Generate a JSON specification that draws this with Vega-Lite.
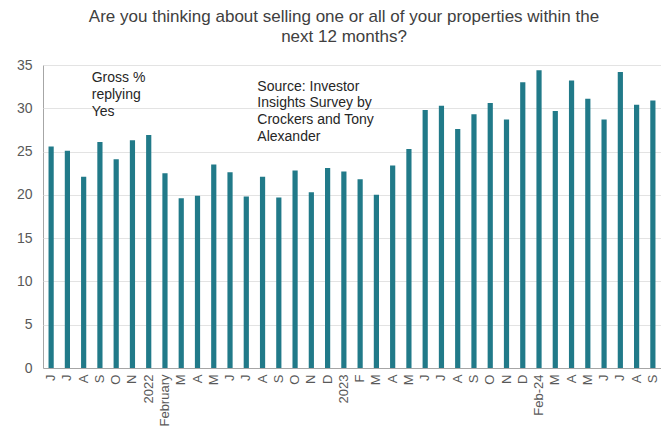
{
  "$schema": "https://vega.github.io/schema/vega-lite/v6.json",
  "width": 618,
  "height": 303,
  "autosize": {"type": "none"},
  "padding": {"left": 43, "top": 65, "right": 0, "bottom": 66},
  "background": "white",
  "config": {
    "font": "Liberation Sans",
    "view": {"stroke": "#a6a6a6", "strokeWidth": 1}
  },
  "title": {
    "text": ["Are you thinking about selling one or all of your properties within the", "next 12 months?"],
    "anchor": "middle",
    "frame": "group",
    "dx": -8,
    "offset": 12,
    "fontSize": 17,
    "fontWeight": "normal",
    "color": "#404040",
    "lineHeight": 20
  },
  "data": {
    "values": [
      {"m": "01|J", "v": 25.6},
      {"m": "02|J", "v": 25.1},
      {"m": "03|A", "v": 22.1},
      {"m": "04|S", "v": 26.1},
      {"m": "05|O", "v": 24.1},
      {"m": "06|N", "v": 26.3},
      {"m": "07|2022", "v": 26.9},
      {"m": "08|February", "v": 22.5},
      {"m": "09|M", "v": 19.6},
      {"m": "10|A", "v": 19.9},
      {"m": "11|M", "v": 23.5},
      {"m": "12|J", "v": 22.6},
      {"m": "13|J", "v": 19.8},
      {"m": "14|A", "v": 22.1},
      {"m": "15|S", "v": 19.7},
      {"m": "16|O", "v": 22.8},
      {"m": "17|N", "v": 20.3},
      {"m": "18|D", "v": 23.1},
      {"m": "19|2023", "v": 22.7},
      {"m": "20|F", "v": 21.8},
      {"m": "21|M", "v": 20.0},
      {"m": "22|A", "v": 23.4},
      {"m": "23|M", "v": 25.3},
      {"m": "24|J", "v": 29.8},
      {"m": "25|J", "v": 30.3},
      {"m": "26|A", "v": 27.6},
      {"m": "27|S", "v": 29.3},
      {"m": "28|O", "v": 30.6},
      {"m": "29|N", "v": 28.7},
      {"m": "30|D", "v": 33.0},
      {"m": "31|Feb-24", "v": 34.4},
      {"m": "32|M", "v": 29.7},
      {"m": "33|A", "v": 33.2},
      {"m": "34|M", "v": 31.1},
      {"m": "35|J", "v": 28.7},
      {"m": "36|J", "v": 34.2},
      {"m": "37|A", "v": 30.4},
      {"m": "38|S", "v": 30.9}
    ]
  },
  "layer": [
    {
      "mark": {"type": "bar", "color": "#217A89"},
      "encoding": {
        "x": {
          "field": "m",
          "type": "ordinal",
          "sort": null,
          "scale": {"paddingInner": 0.68, "paddingOuter": 0.34},
          "axis": {
            "title": null,
            "labelExpr": "split(datum.value, '|')[1]",
            "labelAngle": -90,
            "labelFontSize": 13,
            "labelColor": "#595959",
            "ticks": false,
            "labelPadding": 6,
            "domainColor": "#a6a6a6"
          }
        },
        "y": {
          "field": "v",
          "type": "quantitative",
          "scale": {"domain": [0, 35]},
          "axis": {
            "title": null,
            "values": [0, 5, 10, 15, 20, 25, 30, 35],
            "ticks": false,
            "domain": false,
            "labelFontSize": 14,
            "labelColor": "#595959",
            "labelPadding": 11,
            "gridColor": "#e3e3e3"
          }
        }
      }
    },
    {
      "data": {"values": [{"t": "Gross %\nreplying\nYes"}]},
      "mark": {"type": "text", "align": "left", "baseline": "top", "fontSize": 14, "color": "#262626", "lineHeight": 17.2, "lineBreak": "\n", "dx": -5.6},
      "encoding": {
        "text": {"field": "t"},
        "x": {"datum": "04|S", "type": "ordinal", "bandPosition": 0},
        "y": {"datum": 34.3, "type": "quantitative"}
      }
    },
    {
      "data": {"values": [{"t": "Source: Investor\nInsights Survey by\nCrockers and Tony\nAlexander"}]},
      "mark": {"type": "text", "align": "left", "baseline": "top", "fontSize": 14, "color": "#262626", "lineHeight": 16.7, "lineBreak": "\n", "dx": -2.6},
      "encoding": {
        "text": {"field": "t"},
        "x": {"datum": "14|A", "type": "ordinal", "bandPosition": 0},
        "y": {"datum": 33.3, "type": "quantitative"}
      }
    }
  ]
}
